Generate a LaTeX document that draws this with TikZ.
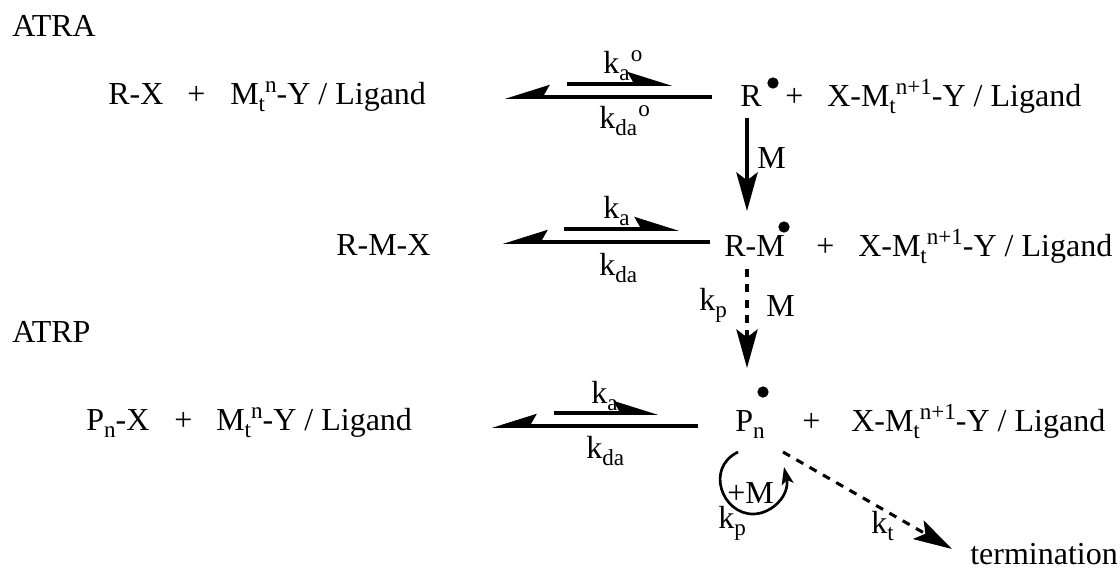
\documentclass[tikz,border=0pt]{standalone}
\usepackage{fontspec}
\setmainfont{Liberation Serif}
\usetikzlibrary{arrows.meta}
\newcommand{\lowtxt}[1]{\raisebox{-0.23em}{\fontsize{17.3}{18}\selectfont #1}}
\newcommand{\hightxt}[1]{\raisebox{0.36em}{\fontsize{17.3}{18}\selectfont #1}}

\begin{document}
\begin{tikzpicture}[x=0.75pt, y=-0.75pt]
    \tikzstyle{species}  = [inner sep=0pt, anchor=base west, font=\fontsize{24}{28}\selectfont]
    \tikzstyle{radical}  = [circle, fill=black, inner sep=0pt, minimum size=8.5pt]
    \tikzstyle{upper}    = [line width=2.7pt, -{Stealth[harpoon, length=29pt, width=18pt, inset=5pt]}]
    \tikzstyle{lower}    = [line width=2.7pt, -{Stealth[harpoon, swap, length=29pt, width=18pt, inset=5pt]}]
    \tikzstyle{arrow}    = [line width=2.7pt, -{Stealth[length=29pt, width=16pt, inset=6pt]}]
    \tikzstyle{dasharrow}= [line width=2.3pt, dash pattern=on 6pt off 5.5pt, -{Stealth[length=29pt, width=16pt, inset=6pt, sep=0pt]}]
    \useasboundingbox (0,0) rectangle (1120,569);

    % Headings
    \node [species] (atra) at (12,36)  {ATRA};
    \node [species] (atrp) at (12,342) {ATRP};

    % ATRA row
    \node [species] (rx)     at (108,104) {R-X};
    \node [species] (plusa)  at (187,104) {+};
    \node [species] (mta)    at (230,104) {M\lowtxt{t}\hightxt{n}-Y / Ligand};
    \node [species] (kao)    at (603,73)  {k\lowtxt{a}\hightxt{\kern1pt o}};
    \node [species] (kdao)   at (599,128) {k\lowtxt{da}\hightxt{\kern1pt o}};
    \node [species] (r)      at (740,106) {R};
    \node [radical] (rdot)   at (773,83)  {};
    \node [species] (plusb)  at (785,106) {+};
    \node [species] (xma)    at (827,106) {X-M\lowtxt{t}\hightxt{n+1}-Y / Ligand};
    \node [species] (ma)     at (757,168) {M};

    % Middle row
    \node [species] (rmx)    at (336,255) {R-M-X};
    \node [species] (ka)     at (603,218) {k\lowtxt{a}};
    \node [species] (kda)    at (599,275) {k\lowtxt{da}};
    \node [species] (rm)     at (724,256) {R-M};
    \node [radical] (rmdot)  at (784,227) {};
    \node [species] (plusc)  at (816,256) {+};
    \node [species] (xmb)    at (858,256) {X-M\lowtxt{t}\hightxt{n+1}-Y / Ligand};
    \node [species] (kpa)    at (699,310) {k\lowtxt{p}};
    \node [species] (mb)     at (766,316) {M};

    % ATRP row
    \node [species] (pnx)    at (86,430)  {P\lowtxt{n}-X};
    \node [species] (plusd)  at (174,430) {+};
    \node [species] (mtb)    at (216,430) {M\lowtxt{t}\hightxt{n}-Y / Ligand};
    \node [species] (kb)     at (591,403) {k\lowtxt{a}};
    \node [species] (kdb)    at (586,458) {k\lowtxt{da}};
    \node [species] (pn)     at (735,431) {P\lowtxt{n}};
    \node [radical] (pndot)  at (763,392) {};
    \node [species] (pluse)  at (802,431) {+};
    \node [species] (xmc)    at (851,431) {X-M\lowtxt{t}\hightxt{n+1}-Y / Ligand};
    \node [species] (plusm)  at (727,503) {+M};
    \node [species] (kpb)    at (718,528) {k\lowtxt{p}};
    \node [species] (kt)     at (871,533) {k\lowtxt{t}};
    \node [species] (term)   at (970,564) {termination};

    % Arrow ends
    \coordinate (a1) at (567,84);  \coordinate (a2) at (672,84);
    \coordinate (a3) at (712,97);  \coordinate (a4) at (505,97);
    \coordinate (b1) at (564,229); \coordinate (b2) at (679,229);
    \coordinate (b3) at (710,242); \coordinate (b4) at (503,242);
    \coordinate (c1) at (554,413); \coordinate (c2) at (658,413);
    \coordinate (c3) at (698,426); \coordinate (c4) at (492,426);
    \coordinate (v1) at (747,118); \coordinate (v2) at (747,211);
    \coordinate (v3) at (747,269); \coordinate (v4) at (747,368);
    \coordinate (t1) at (783,452); \coordinate (t2) at (952,549);
    \coordinate (l1) at (738,452); \coordinate (l2) at (784,467);

    % Arrows
    \draw [upper] (a1) -- (a2);
    \draw [lower] (a3) -- (a4);
    \draw [upper] (b1) -- (b2);
    \draw [lower] (b3) -- (b4);
    \draw [upper] (c1) -- (c2);
    \draw [lower] (c3) -- (c4);
    \draw [arrow] (v1) -- (v2);
    \draw [dasharrow] (v3) -- (v4);
    \draw [dasharrow] (t1) -- (t2);
    \draw [line width=2pt, -{Stealth[length=13pt, width=9pt, inset=3pt]}] (l1) .. controls (705,468) and (722,514) .. (753,514) .. controls (772,514) and (790,495) .. (l2);

\end{tikzpicture}
\end{document}
